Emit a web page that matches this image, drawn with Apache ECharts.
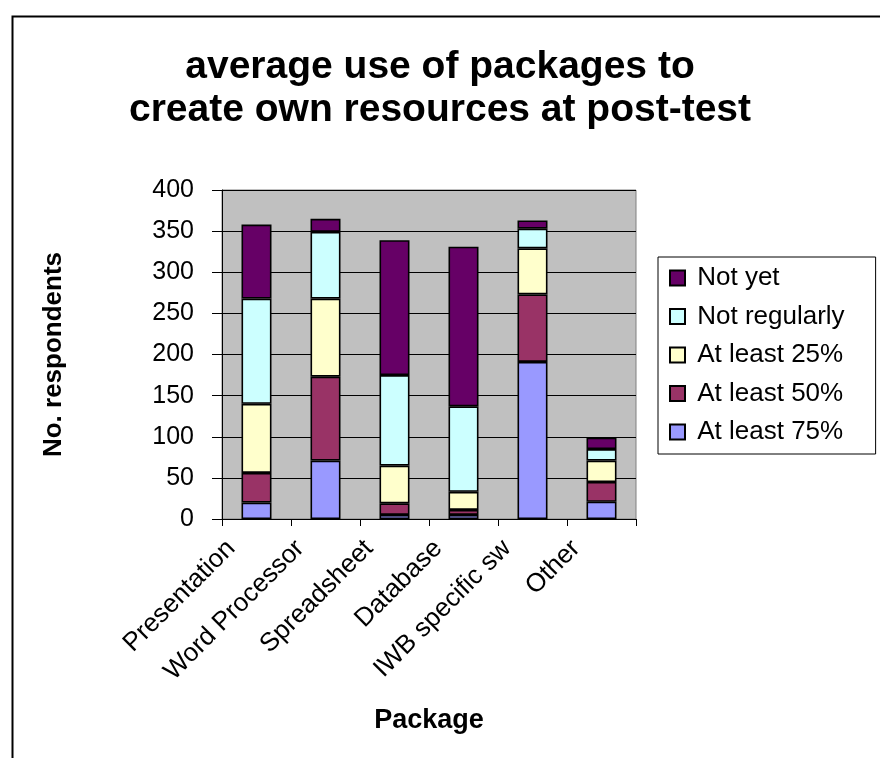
<!DOCTYPE html>
<html>
<head>
<meta charset="utf-8">
<script src="https://cdn.jsdelivr.net/npm/echarts@6/dist/echarts.min.js"></script>
<style>
html,body{margin:0;padding:0;background:#fff;}
#chart{width:880px;height:758px;}
</style>
</head>
<body>
<div id="chart"></div>
<script>
var categories = ['Presentation', 'Word Processor', 'Spreadsheet', 'Database', 'IWB specific sw', 'Other'];
var atLeast75 = [20, 71, 5, 5, 191, 21];
var atLeast50 = [36, 102, 14, 6, 82, 24];
var atLeast25 = [84, 95, 46, 22, 56, 26];
var notRegularly = [128, 81, 110, 104, 24, 14];
var notYet = [90, 16, 164, 194, 10, 14];
var yTicks = [0, 50, 100, 150, 200, 250, 300, 350, 400];

var FONT = '"Liberation Sans", Arial, sans-serif';
var seriesDefs = [
  {name: 'At least 75%', data: atLeast75, color: '#9999FF'},
  {name: 'At least 50%', data: atLeast50, color: '#993366'},
  {name: 'At least 25%', data: atLeast25, color: '#FFFFCC'},
  {name: 'Not regularly', data: notRegularly, color: '#CCFFFF'},
  {name: 'Not yet', data: notYet, color: '#660066'}
];

var chart = echarts.init(document.getElementById('chart'), null, {renderer: 'canvas'});
chart.setOption({
  animation: false,
  backgroundColor: '#ffffff',
  textStyle: {fontFamily: FONT},
  graphic: [{
    type: 'rect', left: 10, top: 14, z: -10,
    shape: {width: 1000, height: 1000},
    style: {fill: 'none', stroke: '#000', lineWidth: 2}
  }],
  title: {
    text: 'average use of packages to\ncreate own resources at post-test',
    left: 'center',
    top: 41,
    textStyle: {fontFamily: FONT, fontWeight: 'bold', fontSize: 39, lineHeight: 43, color: '#000'}
  },
  legend: {
    data: ['Not yet', 'Not regularly', 'At least 25%', 'At least 50%', 'At least 75%'],
    orient: 'vertical',
    left: 658,
    top: 257,
    itemWidth: 15,
    itemHeight: 15,
    itemGap: 12.5,
    padding: [8, 31, 9, 11],
    borderColor: '#000',
    borderWidth: 1,
    icon: 'rect',
    selectedMode: false,
    formatter: function (n) { return ' ' + n; },
    textStyle: {fontFamily: FONT, fontSize: 26, lineHeight: 26, color: '#000'}
  },
  grid: {
    left: 222, right: 244, top: 190, bottom: 239,
    show: true, backgroundColor: '#C0C0C0', borderColor: '#808080', borderWidth: 1,
    containLabel: false
  },
  xAxis: {
    type: 'category',
    data: categories,
    name: 'Package',
    nameLocation: 'middle',
    nameGap: 188,
    nameTextStyle: {fontFamily: FONT, fontWeight: 'bold', fontSize: 27, color: '#000'},
    axisLine: {lineStyle: {color: '#000', width: 1}},
    axisTick: {show: true, length: 7, lineStyle: {color: '#000'}},
    axisLabel: {rotate: 45, fontFamily: FONT, fontSize: 26, color: '#000', margin: 0, interval: 0, padding: [0, 36, 0, 0]}
  },
  yAxis: {
    type: 'value',
    min: 0, max: 400, interval: 50,
    name: 'No. respondents',
    nameLocation: 'middle',
    nameGap: 155,
    nameRotate: 90,
    nameTextStyle: {fontFamily: FONT, fontWeight: 'bold', fontSize: 26, color: '#000'},
    axisLine: {show: true, lineStyle: {color: '#000', width: 1}},
    axisTick: {show: true, length: 10, lineStyle: {color: '#000'}},
    axisLabel: {fontFamily: FONT, fontSize: 25, color: '#000', margin: 28,
      formatter: function (v) { return yTicks.indexOf(v) >= 0 ? String(v) : ''; }},
    splitLine: {show: true, lineStyle: {color: '#000', width: 1}}
  },
  series: seriesDefs.map(function (s) {
    return {
      name: s.name, type: 'bar', stack: 'total', data: s.data,
      barWidth: 30,
      itemStyle: {color: s.color, borderColor: '#000', borderWidth: 1.6}
    };
  })
});
</script>
</body>
</html>
